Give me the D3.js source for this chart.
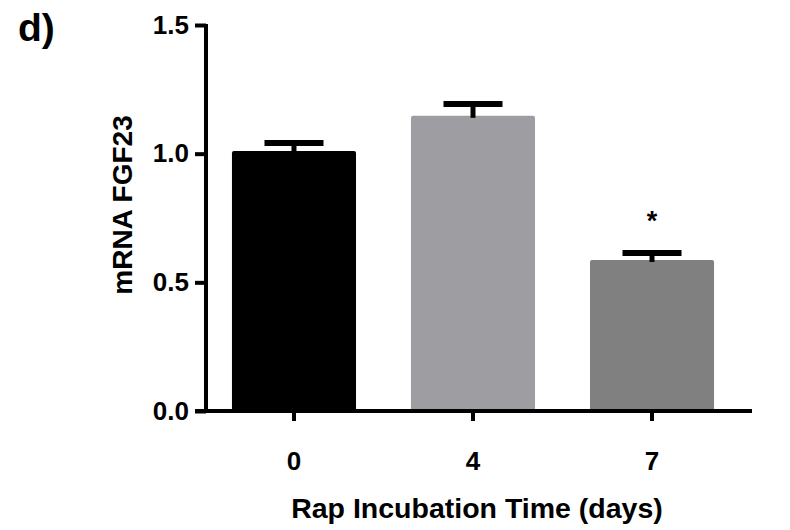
<!DOCTYPE html>
<html>
<head>
<meta charset="utf-8">
<script src="https://cdn.jsdelivr.net/npm/d3@7"></script>
<style>
  body { margin: 0; background: #fff; }
  text { font-family: "Liberation Sans", Arial, sans-serif; font-weight: bold; fill: #000; }
</style>
</head>
<body>
<svg id="chart" width="790" height="530"></svg>
<script>
// data
const days = ['0', '4', '7'];
const means = [1.01, 1.147, 0.587];
const errs = [0.031, 0.046, 0.027];
const barColors = ['#000000', '#9e9ea2', '#808080'];
const yTicks = [0.0, 0.5, 1.0, 1.5];
const marks = ['', '', '*'];

const margin = { top: 25, left: 206, right: 50, bottom: 119 };

const svg = d3.select('#chart');

const x = d3.scaleBand().domain(days)
    .range([margin.left, 740]).paddingInner(0.307).paddingOuter(0.145);
const y = d3.scaleLinear().domain([0, 1.5]).range([411, margin.top]);

// bars
svg.selectAll('rect.bar')
    .data(days)
    .enter()
    .append('rect')
    .attr('class', 'bar')
    .attr('x', d => x(d))
    .attr('width', x.bandwidth())
    .attr('y', (d, i) => y(means[i]))
    .attr('height', (d, i) => y(0) - y(means[i]))
    .attr('rx', 2)
    .style('fill', (d, i) => barColors[i]);

// error bars (upper half only)
const capW = 59;
const eb = svg.selectAll('g.err')
    .data(days)
    .enter()
    .append('g')
    .attr('class', 'err');

eb.append('line')
    .attr('x1', d => x(d) + x.bandwidth() / 2)
    .attr('x2', d => x(d) + x.bandwidth() / 2)
    .attr('y1', (d, i) => y(means[i]) + 2)
    .attr('y2', (d, i) => y(means[i] + errs[i]))
    .style('stroke', '#000')
    .style('stroke-width', 5);

eb.append('line')
    .attr('x1', d => x(d) + x.bandwidth() / 2 - capW / 2)
    .attr('x2', d => x(d) + x.bandwidth() / 2 + capW / 2)
    .attr('y1', (d, i) => y(means[i] + errs[i]))
    .attr('y2', (d, i) => y(means[i] + errs[i]))
    .style('stroke', '#000')
    .style('stroke-width', 6);

// significance marks
svg.selectAll('text.sig')
    .data(days)
    .enter()
    .append('text')
    .attr('class', 'sig')
    .attr('x', d => x(d) + x.bandwidth() / 2)
    .attr('y', (d, i) => y(means[i] + errs[i]) - 23)
    .attr('text-anchor', 'middle')
    .style('font-size', '27px')
    .text((d, i) => marks[i]);

// y axis
const yAxis = svg.append('g')
    .attr('transform', `translate(${margin.left}, 0)`)
    .call(d3.axisLeft(y).tickValues(yTicks).tickFormat(d3.format('.1f'))
        .tickSize(11).tickSizeOuter(0).tickPadding(6));

// x axis
const xAxis = svg.append('g')
    .attr('transform', `translate(0, ${y(0)})`)
    .call(d3.axisBottom(x).tickSize(10).tickSizeOuter(0).tickPadding(31));

[yAxis, xAxis].forEach(a => {
    a.select('.domain').style('stroke', '#000').style('stroke-width', 4);
    a.selectAll('.tick line').style('stroke', '#000').style('stroke-width', 4);
    a.selectAll('.tick text')
        .style('font-size', '26px')
        .style('font-family', '"Liberation Sans", Arial, sans-serif')
        .style('font-weight', 'bold');
});
// x baseline starts left of the y axis, as in the original
xAxis.select('.domain').attr('d', `M${margin.left - 11},0H752`);
yAxis.select('.domain').attr('d', `M0,${margin.top - 1}V${y(0) + 2}`);

// axis titles
svg.append('text')
    .attr('x', 477)
    .attr('y', 518)
    .attr('text-anchor', 'middle')
    .style('font-size', '28.5px')
    .text('Rap Incubation Time (days)');

svg.append('text')
    .attr('transform', 'translate(132, 205) rotate(-90)')
    .attr('text-anchor', 'middle')
    .style('font-size', '28px')
    .text('mRNA FGF23');

// panel label
svg.append('text')
    .attr('x', 18)
    .attr('y', 41)
    .style('font-size', '39px')
    .text('d)');
</script>
</body>
</html>
